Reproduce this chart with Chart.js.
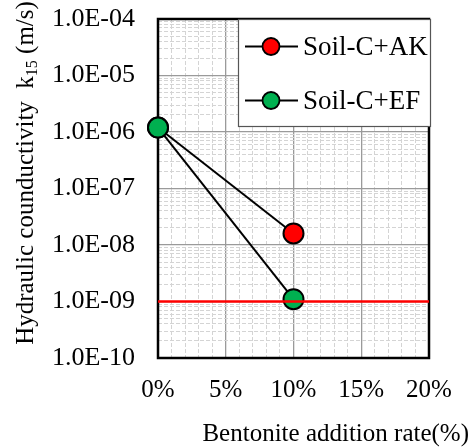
<!DOCTYPE html>
<html>
<head>
<meta charset="utf-8">
<script src="https://cdn.jsdelivr.net/npm/chart.js@4.4.1/dist/chart.umd.min.js"></script>
<style>
  html, body { margin: 0; padding: 0; background: #fff; }
  #wrap { width: 476px; height: 447px; }
</style>
</head>
<body>
<div id="wrap"><canvas id="cv" width="476" height="447"></canvas></div>
<script>
// Datos
var bentoniteRates = [0, 10];                 // % de bentonita
var soilAK = [1.2e-6, 1.6e-8];                // Soil-C+AK, k15 (m/s)
var soilEF = [1.2e-6, 1.1e-9];                // Soil-C+EF, k15 (m/s)
var limitRates = [0, 20];
var limitK = [1e-9, 1e-9];                    // línea roja de referencia
var decades = [-10, -9, -8, -7, -6, -5, -4];  // 1.0E-10 ... 1.0E-04
var xTicks = [0, 5, 10, 15, 20];

var SERIF = '"Liberation Serif", "Times New Roman", serif';

function pts(xs, ys) {
  return xs.map(function (x, i) { return { x: x, y: ys[i] }; });
}
function isDecade(v) {
  var e = Math.round(Math.log10(v));
  return Math.abs(v / Math.pow(10, e) - 1) < 1e-6;
}
function fmtE(v) {
  var e = Math.round(Math.log10(v));
  var s = Math.abs(e) < 10 ? "0" + Math.abs(e) : "" + Math.abs(e);
  return "1.0E" + (e < 0 ? "-" : "+") + s;
}

// marco del área + leyenda + títulos de eje
var decor = {
  id: "decor",
  beforeDatasetsDraw: function (chart) {
    var a = chart.chartArea, c = chart.ctx;
    c.save();
    c.strokeStyle = "#000";
    c.lineWidth = 2.5;
    c.strokeRect(a.left, a.top, a.right - a.left, a.bottom - a.top);
    c.restore();
  },
  afterDatasetsDraw: function (chart) {
    var c = chart.ctx;
    c.save();
    // leyenda
    c.fillStyle = "#fff";
    c.fillRect(238, 19, 193, 108);
    c.strokeStyle = "#555";
    c.lineWidth = 1.2;
    c.strokeRect(238.5, 19.5, 192, 107);
    var items = [chart.data.datasets[1], chart.data.datasets[2]];
    var ys = [46.5, 100.5];
    items.forEach(function (ds, i) {
      var y = ys[i];
      c.strokeStyle = "#000";
      c.lineWidth = 2;
      c.beginPath(); c.moveTo(245, y); c.lineTo(298, y); c.stroke();
      c.beginPath(); c.arc(271, y, 8.5, 0, Math.PI * 2);
      c.fillStyle = ds.pointBackgroundColor; c.fill();
      c.lineWidth = 1.8; c.stroke();
      c.fillStyle = "#000";
      c.font = "27px " + SERIF;
      c.textBaseline = "middle";
      c.textAlign = "left";
      c.fillText(ds.label, 303, y + 1);
    });
    // título eje x
    c.font = "25px " + SERIF;
    c.textAlign = "right";
    c.textBaseline = "alphabetic";
    c.fillText("Bentonite addition rate(%)", 469, 441);
    // título eje y con subíndice
    c.translate(33, 173);
    c.rotate(-Math.PI / 2);
    var big = "25px " + SERIF, small = "16px " + SERIF;
    var p1 = "Hydraulic counductivity  k", p2 = "15", p3 = " (m/s)";
    c.font = big; var w1 = c.measureText(p1).width, w3 = c.measureText(p3).width;
    c.font = small; var w2 = c.measureText(p2).width;
    var x0 = -(w1 + w2 + w3) / 2;
    c.textAlign = "left";
    c.font = big; c.fillText(p1, x0, 0);
    c.font = small; c.fillText(p2, x0 + w1, 4);
    c.font = big; c.fillText(p3, x0 + w1 + w2, 0);
    c.restore();
  }
};

new Chart(document.getElementById("cv"), {
  type: "line",
  data: {
    datasets: [
      {
        label: "limit",
        data: pts(limitRates, limitK),
        borderColor: "#ff0000",
        borderWidth: 2.5,
        pointRadius: 0,
        order: 0
      },
      {
        label: "Soil-C+AK",
        data: pts(bentoniteRates, soilAK),
        borderColor: "#000",
        borderWidth: 2,
        pointRadius: 10,
        pointBorderWidth: 2,
        pointBackgroundColor: "#ff0000",
        pointBorderColor: "#000",
        order: 2
      },
      {
        label: "Soil-C+EF",
        data: pts(bentoniteRates, soilEF),
        borderColor: "#000",
        borderWidth: 2,
        pointRadius: 10,
        pointBorderWidth: 2,
        pointBackgroundColor: "#00b050",
        pointBorderColor: "#000",
        order: 1
      }
    ]
  },
  options: {
    responsive: false,
    animation: false,
    clip: false,
    layout: { padding: { left: 0, right: 47, top: 19, bottom: 0 } },
    plugins: { legend: { display: false }, tooltip: { enabled: false } },
    scales: {
      x: {
        type: "linear",
        min: 0, max: 20,
        afterBuildTicks: function (s) {
          var t = [];
          for (var i = 0; i <= 20; i++) t.push({ value: i });
          s.ticks = t;
        },
        afterFit: function (s) { s.height = 89; s.paddingLeft = 0; s.paddingRight = 0; },
        ticks: {
          autoSkip: false,
          maxRotation: 0,
          padding: 17,
          color: "#000",
          font: { family: SERIF, size: 25 },
          callback: function (v) { return xTicks.indexOf(v) >= 0 ? v + "%" : ""; }
        },
        grid: {
          drawTicks: false,
          color: function (ctx) { return ctx.tick && ctx.tick.value % 5 === 0 ? "#9a9a9a" : "#d4d4d4"; },
          lineWidth: function (ctx) { return ctx.tick && ctx.tick.value % 5 === 0 ? 1.3 : 1; }
        },
        border: {
          display: false,
          dash: function (ctx) { return ctx.tick && ctx.tick.value % 5 !== 0 ? [4, 2] : []; }
        }
      },
      y: {
        type: "logarithmic",
        min: 1e-10, max: 1e-4,
        afterBuildTicks: function (s) {
          var t = [];
          decades.forEach(function (d, i) {
            for (var m = 1; m <= 9; m++) {
              if (i === decades.length - 1 && m > 1) break;
              t.push({ value: m * Math.pow(10, d) });
            }
          });
          s.ticks = t;
        },
        afterFit: function (s) { s.width = 158; s.paddingTop = 0; s.paddingBottom = 0; },
        ticks: {
          autoSkip: false,
          padding: 23,
          color: "#000",
          font: { family: SERIF, size: 26 },
          callback: function (v) { return isDecade(v) ? fmtE(v) : ""; }
        },
        grid: {
          drawTicks: false,
          color: function (ctx) { return ctx.tick && isDecade(ctx.tick.value) ? "#9a9a9a" : "#d4d4d4"; },
          lineWidth: function (ctx) { return ctx.tick && isDecade(ctx.tick.value) ? 1.3 : 1; }
        },
        border: {
          display: false,
          dash: function (ctx) { return ctx.tick && !isDecade(ctx.tick.value) ? [4, 2] : []; }
        }
      }
    }
  },
  plugins: [decor]
});
</script>
</body>
</html>
